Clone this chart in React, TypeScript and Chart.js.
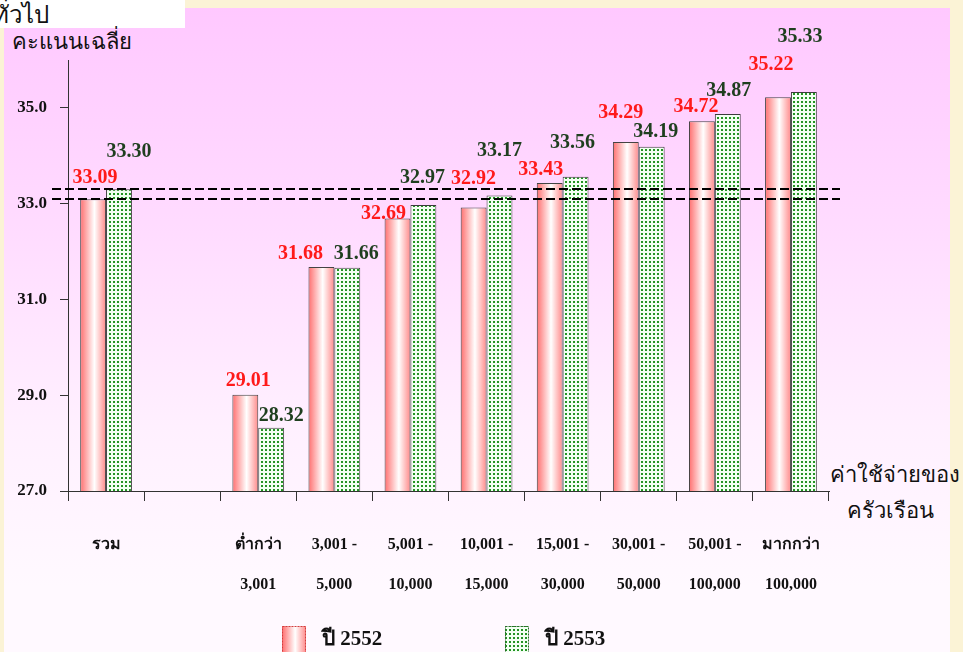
import React, { useEffect, useRef } from "react";
import { Chart, registerables } from "chart.js";

Chart.register(...registerables);

// ---- data ----
const categories: string[][] = [
  ["รวม"],
  [""],
  ["ต่ำกว่า", "3,001"],
  ["3,001 -", "5,000"],
  ["5,001 -", "10,000"],
  ["10,001 -", "15,000"],
  ["15,001 -", "30,000"],
  ["30,001 -", "50,000"],
  ["50,001 -", "100,000"],
  ["มากกว่า", "100,000"],
];
const values2552: (number | null)[] = [33.09, null, 29.01, 31.68, 32.69, 32.92, 33.43, 34.29, 34.72, 35.22];
const values2553: (number | null)[] = [33.3, null, 28.32, 31.66, 32.97, 33.17, 33.56, 34.19, 34.87, 35.33];
const seriesNames = ["ปี 2552", "ปี 2553"];
const yTickValues = [27, 29, 31, 33, 35];
const referenceLines = [33.3, 33.09];

// label offsets (dx, dy) relative to bar top centre
const labelOffsets2552: number[][] = [[2, -22], [0, 0], [3, -14], [-21, -13], [-14, -5], [0, -29], [-9, -13], [-5, -29], [-6, -14], [-7, -33]];
const labelOffsets2553: number[][] = [[10, -37], [0, 0], [10, -12], [9, -14], [-1, -27], [0, -45], [-3, -34], [4, -15], [1, -23], [-4, -55]];

const SERIF = "'Liberation Serif', 'DejaVu Serif', serif";
const RED = "#ff1a1a";
const GREEN = "#1f3f1f";

function makePattern(): CanvasPattern | string {
  const c = document.createElement("canvas");
  c.width = 4;
  c.height = 4;
  const g = c.getContext("2d");
  if (!g) return "#9fd49f";
  g.fillStyle = "#f2fff2";
  g.fillRect(0, 0, 4, 4);
  g.fillStyle = "#239323";
  g.fillRect(1, 1, 2, 2);
  const p = g.createPattern(c, "repeat");
  return p || "#9fd49f";
}

function pinkGradient(ctx: CanvasRenderingContext2D, l: number, r: number): any {
  if (!Number.isFinite(l) || !Number.isFinite(r) || r <= l) return "#ffb8b8";
  const g = ctx.createLinearGradient(l, 0, r, 0);
  g.addColorStop(0, "#ff6e6e");
  g.addColorStop(0.55, "#ffffff");
  g.addColorStop(1, "#ff8a8a");
  return g;
}

export default function App() {
  const ref = useRef<HTMLCanvasElement | null>(null);

  useEffect(() => {
    if (!ref.current) return;
    const pattern = makePattern();

    const overlay = {
      id: "overlay",
      afterDatasetsDraw(chart: any) {
        const { ctx, chartArea, scales } = chart;
        ctx.save();
        ctx.strokeStyle = "#000";
        ctx.lineWidth = 2;
        ctx.setLineDash([9, 4]);
        referenceLines.forEach((v) => {
          const y = Math.round(scales.y.getPixelForValue(v));
          ctx.beginPath();
          ctx.moveTo(chartArea.left - 16, y);
          ctx.lineTo(chartArea.right + 11, y);
          ctx.stroke();
        });
        ctx.setLineDash([]);
        ctx.font = `bold 20px ${SERIF}`;
        ctx.textAlign = "center";
        ctx.textBaseline = "middle";
        const series = [
          { vals: values2552, offs: labelOffsets2552, color: RED, meta: chart.getDatasetMeta(0) },
          { vals: values2553, offs: labelOffsets2553, color: GREEN, meta: chart.getDatasetMeta(1) },
        ];
        series.forEach((s) => {
          ctx.fillStyle = s.color;
          s.vals.forEach((v, i) => {
            if (v == null) return;
            const el = s.meta.data[i];
            if (!el) return;
            ctx.fillText(v.toFixed(2), el.x + s.offs[i][0], el.y + s.offs[i][1]);
          });
        });
        ctx.restore();
      },
      afterDraw(chart: any) {
        const { ctx } = chart;
        ctx.save();
        const items = [
          { x: 282, fill: pinkGradient(ctx, 282, 306), border: "#d04040" },
          { x: 505, fill: pattern, border: "#2a6a2a" },
        ];
        items.forEach((it, i) => {
          ctx.fillStyle = it.fill as any;
          ctx.fillRect(it.x, 626, 24, 30);
          ctx.strokeStyle = it.border;
          ctx.lineWidth = 1;
          ctx.setLineDash([2, 1]);
          ctx.strokeRect(it.x + 0.5, 626.5, 23, 30);
          ctx.setLineDash([]);
          ctx.fillStyle = "#111";
          ctx.font = `bold 21px ${SERIF}`;
          ctx.textAlign = "left";
          ctx.textBaseline = "middle";
          ctx.fillText(seriesNames[i], it.x + 40, 640);
        });
        ctx.restore();
      },
    };

    const chart = new Chart(ref.current, {
      type: "bar",
      data: {
        labels: categories,
        datasets: [
          {
            label: seriesNames[0],
            data: values2552,
            backgroundColor: (c: any) => {
              const ch = c.chart;
              const xs = ch && ch.scales && ch.scales.x;
              if (!xs || c.type !== "data" || !ch.chartArea) return "#ffb8b8";
              const cx = xs.getPixelForValue(c.dataIndex);
              const h = ((xs.width / categories.length) * 0.68) / 2;
              return pinkGradient(ch.ctx, cx - h, cx);
            },
            borderColor: "#444",
            borderWidth: 1,
            categoryPercentage: 0.68,
            barPercentage: 1,
          },
          {
            label: seriesNames[1],
            data: values2553,
            backgroundColor: pattern as any,
            borderColor: "#3b3b3b",
            borderWidth: 1,
            categoryPercentage: 0.68,
            barPercentage: 1,
          },
        ],
      },
      options: {
        responsive: false,
        animation: false,
        layout: { padding: { top: 60, right: 134, left: 0, bottom: 0 } },
        plugins: {
          legend: { display: false },
          tooltip: { enabled: false },
        },
        scales: {
          x: {
            grid: {
              offset: true,
              drawOnChartArea: false,
              drawTicks: true,
              tickLength: 10,
              color: "#333",
              lineWidth: 1,
            },
            border: { color: "#333", width: 1 },
            ticks: {
              color: "#111",
              font: { family: SERIF, size: 16, weight: "bold", lineHeight: "40px" } as any,
              padding: 24,
              maxRotation: 0,
              autoSkip: false,
            },
            afterFit: (s: any) => {
              s.height = 161;
            },
          },
          y: {
            min: 27,
            max: 36,
            afterBuildTicks: (s: any) => {
              s.ticks = yTickValues.map((value) => ({ value }));
            },
            grid: {
              drawOnChartArea: false,
              drawTicks: true,
              tickLength: 8,
              color: "#333",
            },
            border: { color: "#333", width: 1 },
            ticks: {
              color: "#111",
              font: { family: SERIF, size: 17, weight: "bold" },
              padding: 13,
              callback: (v: any) => Number(v).toFixed(1),
            },
            afterFit: (s: any) => {
              s.width = 68;
            },
          },
        },
      },
      plugins: [overlay],
    });
    return () => chart.destroy();
  }, []);

  return (
    <div
      style={{
        position: "absolute",
        left: 0,
        top: 0,
        width: 963,
        height: 652,
        overflow: "hidden",
        background: "#fbf3d6",
        fontFamily: SERIF,
      }}
    >
      <div
        style={{
          position: "absolute",
          left: 4,
          top: 8,
          width: 946,
          height: 644,
          background: "linear-gradient(to bottom, #ffc8ff 0%, #ffdcff 35%, #fff0ff 65%, #fff9ff 90%)",
        }}
      />
      <div
        style={{
          position: "absolute",
          left: 0,
          top: 0,
          width: 185,
          height: 28,
          background: "#fff",
          overflow: "hidden",
        }}
      >
        <span style={{ position: "absolute", left: -7, top: -5, fontSize: 24, color: "#111", whiteSpace: "nowrap" }}>ทั่วไป</span>
      </div>
      <div style={{ position: "absolute", left: 12, top: 24, fontSize: 22, color: "#111", whiteSpace: "nowrap" }}>
        คะแนนเฉลี่ย
      </div>
      <div
        style={{
          position: "absolute",
          left: 830,
          top: 457,
          width: 120,
          fontSize: 22,
          color: "#111",
          textAlign: "center",
          lineHeight: "36px",
          whiteSpace: "nowrap",
        }}
      >
        ค่าใช้จ่ายของ
        <br />
        ครัวเรือน
      </div>
      <canvas ref={ref} width={963} height={652} style={{ position: "absolute", left: 0, top: 0, width: 963, height: 652 }} />
    </div>
  );
}
